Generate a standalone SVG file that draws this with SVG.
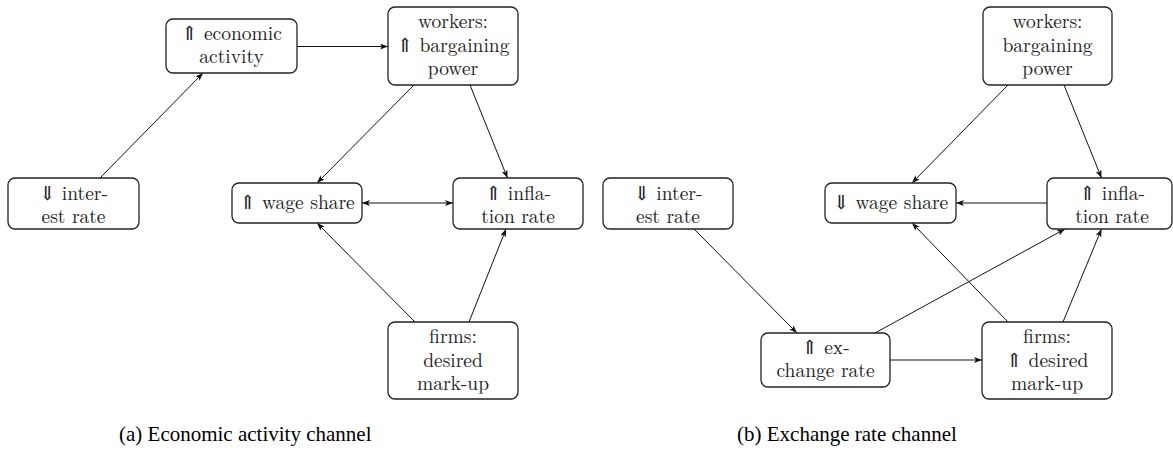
<svg xmlns="http://www.w3.org/2000/svg" width="1173" height="450" viewBox="0 0 1173 450">
<style>
.box{fill:#fff;stroke:#222;stroke-width:1.3}
.t{font-size:19.5px;fill:#222;text-anchor:middle}
.e{fill:none;stroke:#111;stroke-width:1}
</style>
<defs>
<marker id="ah" viewBox="0 0 8 6" refX="8" refY="3" markerWidth="8" markerHeight="6" orient="auto-start-reverse" markerUnits="userSpaceOnUse">
<path d="M0,0 L8,3 L0,6 L2,3 z" fill="#111"/>
</marker>
</defs>
<rect width="1173" height="450" fill="#fff"/>
<g id="connectors">
<path class="e" d="M100,178 L203,73" marker-end="url(#ah)"/>
<path class="e" d="M297,46.5 L388,46.5" marker-end="url(#ah)"/>
<path class="e" d="M414,85 L317,183" marker-end="url(#ah)"/>
<path class="e" d="M470,85 L507.5,178" marker-end="url(#ah)"/>
<path class="e" d="M362,203 L453,203" marker-start="url(#ah)" marker-end="url(#ah)"/>
<path class="e" d="M415,322 L317,223" marker-end="url(#ah)"/>
<path class="e" d="M469,322 L506,229" marker-end="url(#ah)"/>
<path class="e" d="M694,229 L797,333" marker-end="url(#ah)"/>
<path class="e" d="M1008,85 L912,183" marker-end="url(#ah)"/>
<path class="e" d="M1064,85 L1101.5,178" marker-end="url(#ah)"/>
<path class="e" d="M1047,203 L956,203" marker-end="url(#ah)"/>
<path class="e" d="M875,333 L1065,229" marker-end="url(#ah)"/>
<path class="e" d="M1008,322 L912,223" marker-end="url(#ah)"/>
<path class="e" d="M1063,322 L1101.5,229" marker-end="url(#ah)"/>
<path class="e" d="M890,360 L982,360" marker-end="url(#ah)"/>
</g>
<g font-family="Latin Modern Roman, CMU Serif, Liberation Serif, DejaVu Serif, serif">
<g id="a-econ"><rect class="box" x="166" y="19" width="131" height="54" rx="7"/><text class="t" x="231.5" y="40">⇑ economic</text><text class="t" x="231.5" y="63">activity</text></g>
<g id="a-interest"><rect class="box" x="8" y="178" width="131" height="51" rx="7"/><text class="t" x="73.5" y="199.5">⇓ inter-</text><text class="t" x="73.5" y="223">est rate</text></g>
<g id="a-workers"><rect class="box" x="388" y="7" width="130" height="78" rx="7"/><text class="t" x="453" y="28">workers:</text><text class="t" x="453" y="51.5">⇑ bargaining</text><text class="t" x="453" y="74.5">power</text></g>
<g id="a-wage"><rect class="box" x="232" y="183" width="130" height="40" rx="7"/><text class="t" x="297" y="208.5">⇑ wage share</text></g>
<g id="a-inflation"><rect class="box" x="453" y="178" width="130" height="51" rx="7"/><text class="t" x="518" y="199.5">⇑ infla-</text><text class="t" x="518" y="223">tion rate</text></g>
<g id="a-firms"><rect class="box" x="388" y="322" width="130" height="77" rx="7"/><text class="t" x="453" y="343">firms:</text><text class="t" x="453" y="366.5">desired</text><text class="t" x="453" y="389.5">mark-up</text></g>
<g id="b-interest"><rect class="box" x="603" y="178" width="130" height="51" rx="7"/><text class="t" x="668" y="199.5">⇓ inter-</text><text class="t" x="668" y="223">est rate</text></g>
<g id="b-wage"><rect class="box" x="825" y="183" width="131" height="40" rx="7"/><text class="t" x="890.5" y="208.5">⇓ wage share</text></g>
<g id="b-workers"><rect class="box" x="983" y="7" width="129" height="78" rx="7"/><text class="t" x="1047.5" y="28">workers:</text><text class="t" x="1047.5" y="51.5">bargaining</text><text class="t" x="1047.5" y="74.5">power</text></g>
<g id="b-inflation"><rect class="box" x="1047" y="178" width="125" height="51" rx="7"/><text class="t" x="1112" y="199.5">⇑ infla-</text><text class="t" x="1112" y="223">tion rate</text></g>
<g id="b-exchange"><rect class="box" x="761" y="333" width="129" height="54" rx="7"/><text class="t" x="825.5" y="354">⇑ ex-</text><text class="t" x="825.5" y="377">change rate</text></g>
<g id="b-firms"><rect class="box" x="982" y="322" width="130" height="77" rx="7"/><text class="t" x="1047" y="343">firms:</text><text class="t" x="1047" y="366.5">⇑ desired</text><text class="t" x="1047" y="389.5">mark-up</text></g>
</g>
<g id="captions"><text font-family="Times New Roman" font-size="21" fill="#000" x="119" y="441">(a) Economic activity channel</text><text font-family="Times New Roman" font-size="21" fill="#000" x="737" y="441">(b) Exchange rate channel</text></g>
</svg>
